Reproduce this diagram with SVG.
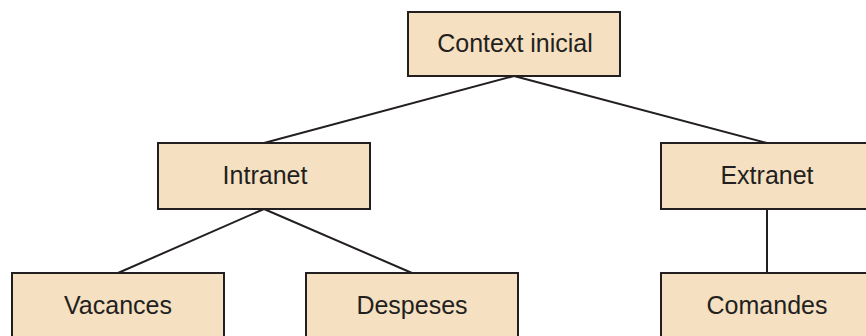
<svg xmlns="http://www.w3.org/2000/svg" width="866" height="336" viewBox="0 0 866 336">
<style>
.box{fill:#F5E0C1;stroke:#231F20;stroke-width:2}
.lbl{font-family:"Liberation Sans",Arial,sans-serif;font-size:25px;fill:#231F20;text-anchor:middle}
.conn{stroke:#231F20;stroke-width:2;fill:none}
</style>
<rect width="866" height="336" fill="#ffffff"/>
<g id="connectors">
<line class="conn" x1="514" y1="76" x2="264" y2="143"/>
<line class="conn" x1="514" y1="76" x2="767" y2="143"/>
<line class="conn" x1="264" y1="209" x2="118" y2="273"/>
<line class="conn" x1="264" y1="209" x2="412" y2="273"/>
<line class="conn" x1="767" y1="209" x2="767" y2="273"/>
</g>
<g id="context">
<rect class="box" x="408" y="12" width="212" height="64"/>
<text class="lbl" x="515" y="52">Context inicial</text>
</g>
<g id="intranet">
<rect class="box" x="158" y="143" width="212" height="66"/>
<text class="lbl" x="265" y="184">Intranet</text>
</g>
<g id="extranet">
<rect class="box" x="661" y="143" width="212" height="66"/>
<text class="lbl" x="767" y="184">Extranet</text>
</g>
<g id="vacances">
<rect class="box" x="12" y="273" width="212" height="70"/>
<text class="lbl" x="118" y="314">Vacances</text>
</g>
<g id="despeses">
<rect class="box" x="306" y="273" width="212" height="70"/>
<text class="lbl" x="412" y="314">Despeses</text>
</g>
<g id="comandes">
<rect class="box" x="661" y="273" width="212" height="70"/>
<text class="lbl" x="767" y="314">Comandes</text>
</g>
</svg>
